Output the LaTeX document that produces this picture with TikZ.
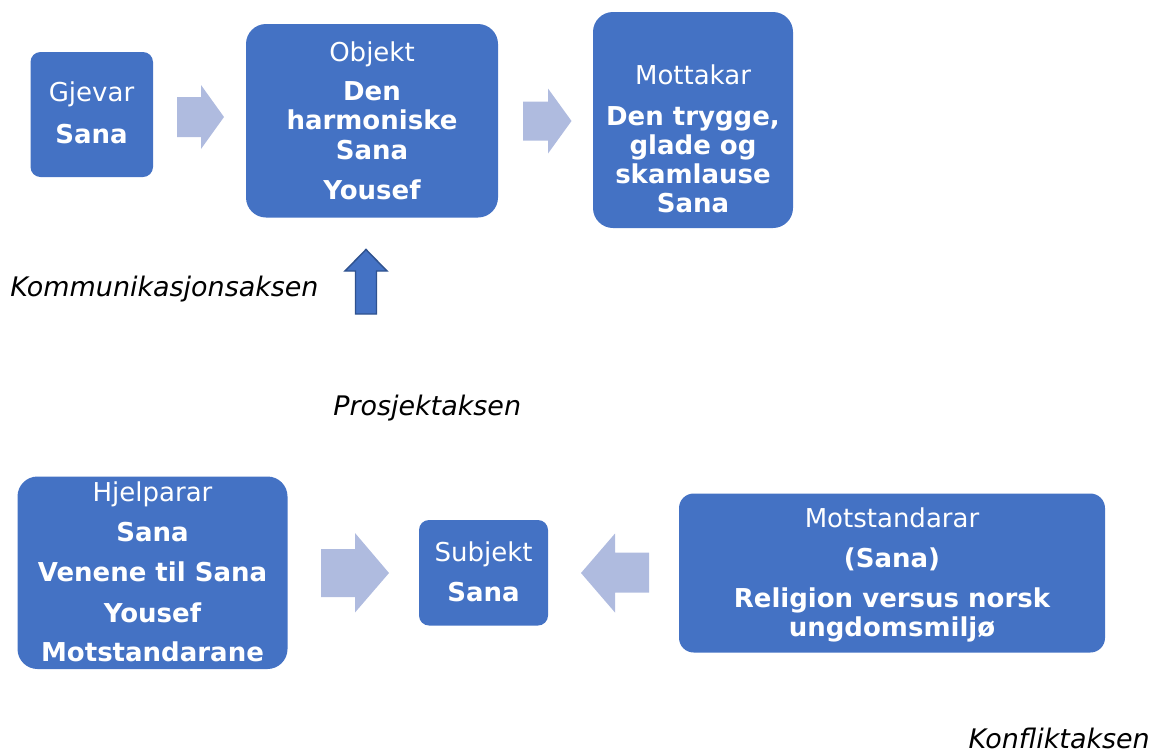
\documentclass[tikz,border=0pt]{standalone}
\usepackage{fontspec}
\setmainfont{DejaVu Sans}
\usetikzlibrary{fit}
\definecolor{boxblue}{HTML}{4472C4}
\definecolor{lightarrow}{HTML}{AFBBDF}
\definecolor{darkedge}{HTML}{2F528F}
\tikzset{
  box/.style={fill=boxblue, draw=none, inner sep=0pt},
  ttl/.style={text=white, anchor=base, inner sep=0pt, font=\fontsize{19.5}{23}\selectfont},
  bd/.style={text=white, anchor=base, inner sep=0pt, font=\fontsize{19.5}{23}\selectfont\bfseries},
  axislabel/.style={text=black, anchor=base west, inner sep=0pt, font=\fontsize{20.2}{24}\selectfont\itshape},
  blockarrow/.style={fill=lightarrow, draw=none},
}
\begin{document}
\begin{tikzpicture}[x=0.75pt,y=-0.75pt]
\useasboundingbox (0,0) rectangle (1152,754);

% boxes
\node[box, rounded corners=7.5pt, fit={(30.5,52) (153,177)}] (gjevar) {};
\node[box, rounded corners=15pt, fit={(246,24) (498,217.5)}] (objekt) {};
\node[box, rounded corners=15pt, fit={(593,12) (793,228)}] (mottakar) {};
\node[box, rounded corners=15pt, fit={(17.5,476.5) (287.5,669)}] (hjelparar) {};
\node[box, rounded corners=7.5pt, fit={(419,520) (548,625.5)}] (subjekt) {};
\node[box, rounded corners=11pt, fit={(679,493.5) (1105,652.5)}] (motstandarar) {};

% texts: Gjevar
\node[ttl] (gj1) at (91.5,101.5) {Gjevar};
\node[bd]  (gj2) at (91.5,143) {Sana};
% Objekt
\node[ttl] (ob1) at (372,61) {Objekt};
\node[bd]  (ob2) at (372,100.5) {Den};
\node[bd]  (ob3) at (372,129.5) {harmoniske};
\node[bd]  (ob4) at (372,159.5) {Sana};
\node[bd]  (ob5) at (372,199) {Yousef};
% Mottakar
\node[ttl] (mo1) at (693,84) {Mottakar};
\node[bd]  (mo2) at (693,125) {Den trygge,};
\node[bd]  (mo3) at (693,154) {glade og};
\node[bd]  (mo4) at (693,183.5) {skamlause};
\node[bd]  (mo5) at (693,212.5) {Sana};
% Hjelparar
\node[ttl] (hj1) at (152.5,501.5) {Hjelparar};
\node[bd]  (hj2) at (152.5,541.5) {Sana};
\node[bd]  (hj3) at (152.5,581.5) {Venene til Sana};
\node[bd]  (hj4) at (152.5,622) {Yousef};
\node[bd]  (hj5) at (152.5,661.5) {Motstandarane};
% Subjekt
\node[ttl] (su1) at (483.5,561.5) {Subjekt};
\node[bd]  (su2) at (483.5,601.5) {Sana};
% Motstandarar
\node[ttl] (ms1) at (892,527.5) {Motstandarar};
\node[bd]  (ms2) at (892,567) {(Sana)};
\node[bd]  (ms3) at (892,607.5) {Religion versus norsk};
\node[bd]  (ms4) at (892,636) {ungdomsmiljø};

% axis labels
\node[axislabel] (kom) at (10,296.5) {Kommunikasjonsaksen};
\node[axislabel] (pro) at (333,415) {Prosjektaksen};
\node[axislabel, anchor=base east] (kon) at (1150,748.5) {Konfliktaksen};

% light block arrows
\fill[blockarrow] (177,97) -- (201,97) -- (201,85) -- (224,117) -- (201,149) -- (201,137) -- (177,137) -- cycle;
\fill[blockarrow] (523,101.5) -- (548,101.5) -- (548,88.5) -- (571.5,121) -- (548,153.5) -- (548,140.5) -- (523,140.5) -- cycle;
\fill[blockarrow] (321,549) -- (355,549) -- (355,533) -- (389,573) -- (355,612.5) -- (355,597) -- (321,597) -- cycle;
\fill[blockarrow] (649,552.5) -- (615,552.5) -- (615,533.5) -- (581,573) -- (615,612.5) -- (615,592.5) -- (649,592.5) -- cycle;

% up arrow
\filldraw[fill=boxblue, draw=darkedge, line width=1.1pt, line join=miter]
  (355.5,314) -- (355.5,271) -- (345,271) -- (366,249.5) -- (387,271) -- (376.5,271) -- (376.5,314) -- cycle;
\end{tikzpicture}
\end{document}
